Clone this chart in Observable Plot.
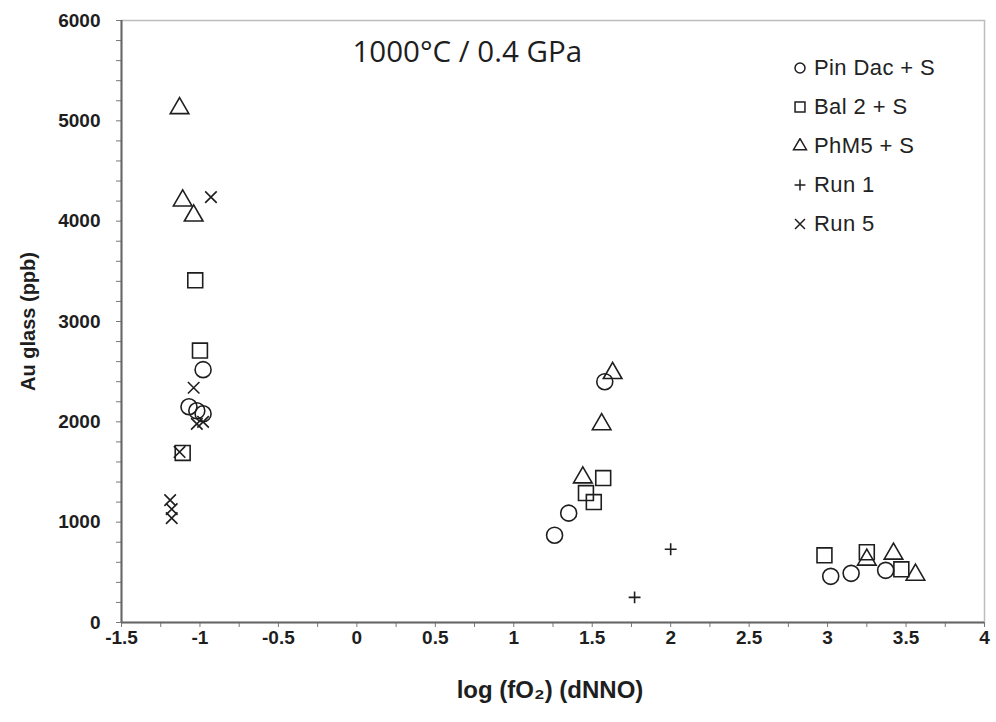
<!DOCTYPE html>
<html><head><meta charset="utf-8">
<script src="https://cdn.jsdelivr.net/npm/d3@7"></script>
<script src="https://cdn.jsdelivr.net/npm/@observablehq/plot@0.6"></script>
<style>
body{margin:0;background:#fff;}
#wrap{position:relative;width:996px;height:722px;}
#legend{position:absolute;left:792px;top:48px;font-family:"Liberation Sans",Arial,sans-serif;font-size:22px;letter-spacing:0.4px;color:#222;}
.row{display:flex;align-items:center;height:39px;}
.row span{margin-left:6px;white-space:nowrap;}
</style></head><body><div id="wrap"><div id="legend"></div></div>
<script>
const title = "1000°C / 0.4 GPa";
const xLabel = "log (fO₂) (dNNO)";
const yLabel = "Au glass (ppb)";
const seriesNames = ["Pin Dac + S", "Bal 2 + S", "PhM5 + S", "Run 1", "Run 5"];
const xTicks = [-1.5, -1, -0.5, 0, 0.5, 1, 1.5, 2, 2.5, 3, 3.5, 4];
const yTicks = [0, 1000, 2000, 3000, 4000, 5000, 6000];

const pinDacX = [-0.98, -1.07, -1.02, -0.98, 1.58, 1.35, 1.26, 3.02, 3.15, 3.37];
const pinDacY = [2520, 2150, 2110, 2080, 2400, 1090, 870, 460, 490, 520];
const bal2X = [-1.03, -1.00, -1.11, 1.57, 1.46, 1.51, 2.98, 3.25, 3.47];
const bal2Y = [3410, 2710, 1690, 1440, 1290, 1200, 670, 700, 530];
const phm5X = [-1.13, -1.11, -1.04, 1.63, 1.56, 1.44, 3.25, 3.42, 3.56];
const phm5Y = [5125, 4205, 4055, 2485, 1975, 1445, 625, 685, 475];
const run1X = [2.00, 1.77];
const run1Y = [730, 250];
const run5X = [-0.93, -1.04, -1.02, -0.98, -1.13, -1.19, -1.18, -1.18];
const run5Y = [4240, 2340, 1980, 2000, 1700, 1220, 1130, 1040];

const rows = (xs, ys) => xs.map((x, i) => ({x, y: ys[i]}));
const ink = "#1e1e1e";
const sw = 1.6;

const xMinor = d3.range(-1.5, 4.001, 0.25);
const yMinor = d3.range(0, 6001, 200);

const series = [
  {name: seriesNames[0], data: rows(pinDacX, pinDacY), symbol: d3.symbolCircle, r: 8, lr: 5},
  {name: seriesNames[1], data: rows(bal2X, bal2Y), symbol: d3.symbolSquare, r: 8.4, lr: 5.6},
  {name: seriesNames[2], data: rows(phm5X, phm5Y), symbol: d3.symbolTriangle, r: 6.9, lr: 4.8},
  {name: seriesNames[3], data: rows(run1X, run1Y), symbol: d3.symbolPlus, r: 3.9, lr: 3.6},
  {name: seriesNames[4], data: rows(run5X, run5Y), symbol: d3.symbolTimes, r: 5.3, lr: 4.6}
];

const plot = Plot.plot({
  width: 996, height: 722,
  marginLeft: 121, marginRight: 12, marginTop: 20, marginBottom: 100,
  x: {domain: [-1.5, 4]},
  y: {domain: [0, 6000]},
  style: {fontFamily: "'Liberation Sans', Arial, sans-serif", fontSize: "19px", fontWeight: "bold", color: "#1e1e1e", background: "white"},
  marks: [
    Plot.frame({stroke: "#bdbdbd", strokeWidth: 1.5}),
    Plot.axisX({ticks: xMinor, tickSize: 5, tickFormat: () => "", label: null, stroke: "#777"}),
    Plot.axisX({ticks: xTicks, tickSize: 0, tickPadding: 8, tickFormat: d => String(d), label: null}),
    Plot.axisY({ticks: yMinor, tickSize: 5, tickFormat: () => "", label: null, stroke: "#777"}),
    Plot.axisY({ticks: yTicks, tickSize: 0, tickPadding: 21, tickFormat: d => String(d), label: null}),
    Plot.ruleX([-1.5], {stroke: "#666", strokeWidth: 2}),
    Plot.ruleY([0], {stroke: "#666", strokeWidth: 2}),
    ...series.map(s => Plot.dot(s.data, {x: "x", y: "y", symbol: () => s.symbol, r: s.r, stroke: ink, strokeWidth: sw, fill: "none"})),
    Plot.text([title], {frameAnchor: "top-left", dx: 231, dy: 32, textAnchor: "start", lineAnchor: "middle", fontFamily: "'Open Sans', sans-serif", fontSize: 29.5, fontWeight: "normal", fill: ink}),
    Plot.text([yLabel], {frameAnchor: "left", dx: -93, rotate: -90, textAnchor: "middle", lineAnchor: "middle", fontSize: 20, fontWeight: "bold", fill: ink}),
    Plot.text([xLabel], {frameAnchor: "bottom", dy: 68, dx: -3, textAnchor: "middle", lineAnchor: "middle", fontSize: 24, fontWeight: "bold", fill: ink})
  ]
});
document.getElementById("wrap").prepend(plot);

const legend = d3.select("#legend");
series.forEach(s => {
  const row = legend.append("div").attr("class", "row");
  const svg = row.append("svg").attr("width", 16).attr("height", 16);
  svg.append("path")
    .attr("transform", "translate(8,8)")
    .attr("d", d3.symbol(s.symbol, Math.PI * s.lr * s.lr)())
    .attr("fill", "none").attr("stroke", ink).attr("stroke-width", 1.5);
  row.append("span").text(s.name);
});
</script>
</body></html>
